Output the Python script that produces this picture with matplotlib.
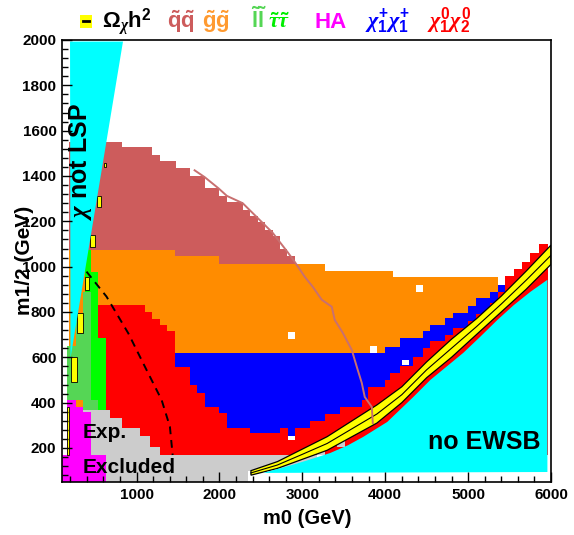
import matplotlib
matplotlib.use("Agg")
import matplotlib.pyplot as plt
from matplotlib.patches import Polygon, Rectangle
from matplotlib.lines import Line2D
from matplotlib.ticker import MultipleLocator

plt.rcParams['font.family'] = ['Liberation Sans', 'DejaVu Sans']
plt.rcParams['font.weight'] = 'bold'
plt.rcParams['mathtext.fontset'] = 'custom'
plt.rcParams['mathtext.rm'] = 'Liberation Sans:bold'
plt.rcParams['mathtext.bf'] = 'Liberation Sans:bold'
plt.rcParams['mathtext.it'] = 'Liberation Serif:italic'
plt.rcParams['mathtext.sf'] = 'Liberation Sans:bold'

# ---------------- data (m0, m1/2 in GeV) ----------------
rose_m0 = [190, 820, 1180, 1280, 1480, 1640, 1820, 1990, 2090, 2280, 2365, 2460, 2545, 2640, 2730, 2820, 2910]
rose_top = [1552, 1526, 1494, 1464, 1435, 1401, 1348, 1312, 1283, 1251, 1224, 1195, 1163, 1133, 1079, 1045]

orange_m0 = [190, 1460, 1990, 3270, 4090, 5360]
orange_top = [1074, 1045, 1012, 981, 953]

blue_m0 = [1460, 1645, 1725, 1825, 1990, 2090, 2365, 2730, 2830, 2910, 3090, 3270, 3450, 3715,
           3795, 3995, 4055, 4176, 4340, 4458, 4539, 4720, 4820, 5001, 5094, 5263, 5363, 5444]
blue_top = [621, 621, 621, 621, 621, 621, 621, 621, 621, 621, 621, 621, 621, 621,
            621, 647, 647, 684, 684, 714, 743, 773, 795, 827, 861, 890, 920]
blue_bot = [559, 478, 442, 382, 353, 287, 265, 287, 255, 287, 321, 350, 382, 412,
            471, 500, 530, 560, 600, 640, 670, 700, 730, 760, 790, 840, 890]

red_m0 = [537, 1097, 1181, 1278, 1362, 1460, 3995, 4055, 4176, 4340, 4458, 4539, 4720, 4820,
          5001, 5094, 5263, 5363, 5444, 5550, 5650, 5750, 5850, 5960]
red_top = [831, 801, 768, 743, 714, 621, 647, 647, 684, 684, 714, 743, 773, 795,
           827, 861, 890, 920, 960, 990, 1020, 1060, 1100]

green_m0 = [380, 456, 537, 637]
green_top = [1074, 978, 685]
green_bot = [889, 412, 368]

lgreen_m0 = [166, 275, 356, 456, 537]
lgreen_top = [650, 760, 889, 412]
lgreen_bot = [412, 412, 368, 368]

gray_m0 = [356, 677, 819, 1040, 1161, 1281, 2340, 3180]
gray_top = [368, 331, 287, 254, 206, 169, 169]
gray_bot = [50, 50, 50, 50, 50, 50, 100]
graycell_m0 = [3175, 3415]
graycell_lo = [169, 206]
graycell_hi = [206, 244]

mag_m0 = [100, 166, 275, 348, 456, 637]
mag_top = [169, 412, 381, 359, 169]

whitecell_m0 = [2827, 3813, 4370, 4200, 2827]
whitecell_lo = [680, 621, 890, 565, 235]
whitecell_hi = [710, 650, 920, 590, 255]

band_m0 = [2380, 2700, 3000, 3300, 3600, 3900, 4200, 4500, 4800, 5100, 5400, 5700, 6000]
band_lo = [80, 110, 150, 190, 250, 310, 400, 510, 600, 700, 800, 900, 1010]
band_mid = [90, 125, 172, 220, 285, 350, 435, 545, 640, 735, 835, 940, 1050]
band_hi = [100, 140, 195, 250, 320, 390, 470, 580, 680, 770, 870, 980, 1095]

lsp_m0_lo = [607, 522, 440, 380, 280, 210, 160]
lsp_m0_hi = [630, 570, 500, 425, 350, 280, 185]
lsp_lo = [1440, 1264, 1088, 898, 707, 490, 169]
lsp_hi = [1458, 1312, 1140, 955, 796, 600, 380]

nolsp_m0 = [197, 836, 203]
nolsp_m12 = [1993, 1993, 597]

ewsb_m0 = [2528, 2878, 3100, 3337, 3550, 3735, 4025, 4339, 4544, 4943, 5150, 5354, 5550, 5752, 5957, 5957]
ewsb_m12 = [90, 125, 150, 178, 212, 249, 315, 425, 500, 620, 692, 765, 830, 889, 942, 94]

sq_line_m0 = [1700, 1821, 1990, 2090, 2280, 2460, 2640, 2820, 2908, 3029, 3126, 3234, 3355, 3391,
              3488, 3596, 3657, 3717, 3753, 3838, 3850]
sq_line_m12 = [1425, 1395, 1345, 1312, 1280, 1215, 1150, 1065, 1021, 955, 911, 854, 823, 765,
               708, 633, 558, 487, 425, 381, 310]

lep_m0 = [396, 637, 900, 1100, 1302, 1402, 1435]
lep_m12 = [978, 868, 706, 559, 412, 294, 169]

# ---------------- colours ----------------
C_ROSE = '#CD5C5C'
C_ORANGE = '#FF8C00'
C_BLUE = '#0000FF'
C_RED = '#FF0000'
C_GREEN = '#00FF00'
C_LGREEN = '#55D655'
C_GRAY = '#CCCCCC'
C_MAG = '#FF00FF'
C_CYAN = '#00FFFF'
C_YEL = '#FFFF00'


def ext(v):
    return list(v) + [v[-1]]


fig = plt.figure(figsize=(5.74, 5.35), dpi=100)
ax = fig.add_axes([0.108, 0.0991, 0.8519, 0.8262])
ax.set_xlim(100, 6000)
ax.set_ylim(50, 2000)

kw = dict(step='post', lw=0, antialiased=False)
ax.fill_between(rose_m0, 169, ext(rose_top), color=C_ROSE, **kw)
ax.fill_between(orange_m0, 169, ext(orange_top), color=C_ORANGE, **kw)
ax.fill_between(red_m0, 169, ext(red_top), color=C_RED, **kw)
ax.fill_between(blue_m0, ext(blue_bot), ext(blue_top), color=C_BLUE, **kw)
ax.fill_between(green_m0, ext(green_bot), ext(green_top), color=C_GREEN, **kw)
ax.fill_between(lgreen_m0, ext(lgreen_bot), ext(lgreen_top), color=C_LGREEN, **kw)
ax.fill_between(gray_m0, ext(gray_bot), ext(gray_top), color=C_GRAY, **kw)
ax.bar(graycell_m0, [h - l for h, l in zip(graycell_hi, graycell_lo)], width=95,
       bottom=graycell_lo, align='edge', color=C_GRAY, lw=0)
ax.fill_between(mag_m0, 50, ext(mag_top), color=C_MAG, **kw)
ax.bar(whitecell_m0, [h - l for h, l in zip(whitecell_hi, whitecell_lo)], width=85,
       bottom=whitecell_lo, align='edge', color='white', lw=0)

# relic density band
band_poly = list(zip(band_m0, band_hi)) + list(zip(band_m0[::-1], band_lo[::-1]))
ax.add_patch(Polygon(band_poly, closed=True, facecolor=C_YEL, edgecolor='black', lw=0.9))
ax.plot(band_m0, band_mid, color='black', lw=0.8)

ax.bar(lsp_m0_lo, [h - l for h, l in zip(lsp_hi, lsp_lo)],
       width=[b - a for a, b in zip(lsp_m0_lo, lsp_m0_hi)], bottom=lsp_lo, align='edge',
       color=C_YEL, edgecolor='black', lw=0.6)

# cyan theoretically excluded regions
ax.add_patch(Polygon(list(zip(nolsp_m0, nolsp_m12)), closed=True, facecolor=C_CYAN, lw=0))
ax.add_patch(Polygon(list(zip(ewsb_m0, ewsb_m12)), closed=True, facecolor=C_CYAN, lw=0))

ax.plot(sq_line_m0, sq_line_m12, color='#C87070', lw=1.4)
ax.plot(lep_m0, lep_m12, color='black', lw=1.4, ls=(0, (4, 3)))

# axes style
ax.xaxis.set_major_locator(MultipleLocator(1000))
ax.xaxis.set_minor_locator(MultipleLocator(200))
ax.yaxis.set_major_locator(MultipleLocator(200))
ax.yaxis.set_minor_locator(MultipleLocator(40))
ax.tick_params(which='both', direction='in', top=False, right=False, labelsize=11, pad=4)
ax.tick_params(which='major', length=7, width=1)
ax.tick_params(which='minor', length=4, width=1)
ax.set_xticks([1000, 2000, 3000, 4000, 5000, 6000])
ax.set_yticks([200, 400, 600, 800, 1000, 1200, 1400, 1600, 1800, 2000])
for lab in ax.get_xticklabels() + ax.get_yticklabels():
    lab.set_fontweight('bold')
for s in ax.spines.values():
    s.set_linewidth(1.2)

W, H = 574.0, 535.0


def ftext(x, y, s, **k):
    fig.text(x / W, 1 - y / H, s, **k)


ftext(307, 518, 'm0 (GeV)', ha='center', va='center', fontsize=14.5, fontweight='bold')
ftext(24, 260, 'm1/2 (GeV)', ha='center', va='center', rotation=90, fontsize=15, fontweight='bold')
ftext(81, 162, r'$\chi$ not LSP', ha='center', va='center', rotation=90, fontsize=18, fontweight='bold')
ftext(428, 449, 'no EWSB', ha='left', va='baseline', fontsize=18, fontweight='bold')
ftext(83, 438, 'Exp.', ha='left', va='baseline', fontsize=15, fontweight='bold')
ftext(83, 473, 'Excluded', ha='left', va='baseline', fontsize=15, fontweight='bold')

# legend line at top
fig.patches.append(Rectangle((80 / W, 1 - 28 / H), 12 / W, 13 / H, transform=fig.transFigure,
                             facecolor=C_YEL, edgecolor='none'))
fig.lines.append(Line2D([83 / W, 89 / W], [1 - 21 / H, 1 - 21 / H], transform=fig.transFigure,
                        color='black', lw=2))
ftext(102, 28, r'$\Omega_{\chi}\mathrm{h}^{\mathrm{2}}$', ha='left', va='baseline', fontsize=16)
ftext(167, 28, r'$\tilde{\mathrm{q}}\tilde{\mathrm{q}}$', ha='left', va='baseline', fontsize=16, color=C_ROSE)
ftext(202, 28, r'$\tilde{\mathrm{g}}\tilde{\mathrm{g}}$', ha='left', va='baseline', fontsize=16, color='#FF9A30')
ftext(251, 28, r'$\tilde{\mathrm{l}}\tilde{\mathrm{l}}$', ha='left', va='baseline', fontsize=16, color='#55D655')
ftext(268, 28, r'$\tilde{\tau}\tilde{\tau}$', ha='left', va='baseline', fontsize=16, color='#00EE00')
ftext(315, 28, 'HA', ha='left', va='baseline', fontsize=16, fontweight='bold', color=C_MAG)
ftext(365, 28, r'$\chi^{+}_{1}\chi^{+}_{1}$', ha='left', va='baseline', fontsize=16, color=C_BLUE)
ftext(427, 28, r'$\chi^{0}_{1}\chi^{0}_{2}$', ha='left', va='baseline', fontsize=16, color=C_RED)

fig.savefig('out.png', dpi=100)
